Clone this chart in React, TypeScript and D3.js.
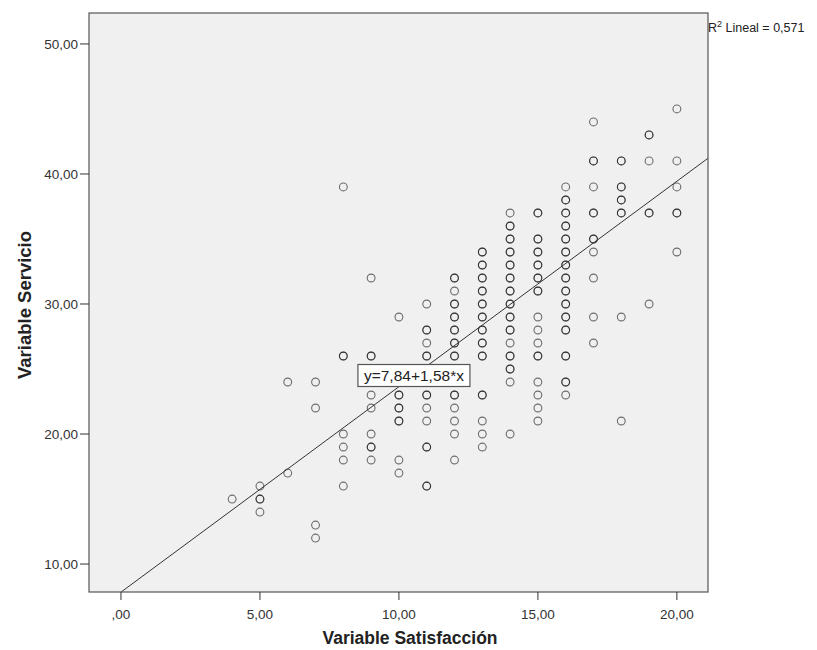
import React from "react";
import * as d3 from "d3";

// Variable Satisfacción values (one column of points each)
const satisfaccion = [4, 5, 6, 7, 8, 9, 10, 11, 12, 13, 14, 15, 16, 17, 18, 19, 20];

// Variable Servicio observations for each satisfaccion value (repeats = overlapping points)
const servicio: number[][] = [
  [15],
  [16, 15, 15, 14],
  [24, 17],
  [24, 22, 13, 12],
  [39, 26, 26, 20, 19, 18, 16],
  [32, 26, 26, 23, 22, 20, 19, 19, 18],
  [29, 23, 23, 22, 22, 21, 21, 18, 17],
  [30, 28, 28, 27, 26, 26, 23, 23, 22, 21, 19, 19, 16, 16],
  [32, 32, 31, 30, 30, 29, 29, 28, 28, 27, 27, 26, 26, 23, 23, 22, 21, 20, 18],
  [34, 34, 33, 33, 32, 32, 31, 31, 30, 30, 29, 29, 28, 28, 27, 27, 26, 26, 23, 23, 21, 20, 19],
  [37, 36, 36, 35, 35, 34, 34, 33, 33, 32, 32, 31, 31, 30, 30, 29, 29, 28, 28, 27, 26, 26, 25, 25, 24, 20],
  [37, 37, 35, 35, 34, 34, 33, 33, 32, 32, 31, 31, 29, 28, 27, 26, 26, 24, 23, 22, 21],
  [39, 38, 38, 37, 37, 36, 36, 35, 35, 34, 34, 33, 33, 32, 32, 31, 31, 30, 30, 29, 29, 28, 28, 26, 26, 24, 24, 23],
  [44, 41, 41, 39, 37, 37, 35, 35, 34, 32, 29, 27],
  [41, 41, 39, 39, 38, 38, 37, 37, 29, 21],
  [43, 43, 41, 37, 37, 30],
  [45, 41, 39, 37, 37, 34],
];

const xTicks = [0, 5, 10, 15, 20];
const yTicks = [10, 20, 30, 40, 50];

// fitted line y = a + b*x
const intercept = 7.84;
const slope = 1.58;
const r2 = 0.571;

const W = 817;
const H = 650;
const left = 89;
const right = 708;
const top = 13;
const bottom = 592;

const fmt = (v: number, digits = 2) => {
  const s = v.toFixed(digits).replace(".", ",");
  return v === 0 ? s.slice(1) : s;
};

export default function App() {
  const x = d3.scaleLinear().domain([-1.15, 21.12]).range([left, right]);
  const y = d3.scaleLinear().domain([7.85, 52.38]).range([bottom, top]);

  const points: { sx: number; sy: number }[] = [];
  satisfaccion.forEach((sx, i) => {
    servicio[i].forEach((sy) => points.push({ sx, sy }));
  });

  const [x0, x1] = x.domain();
  const linePath = d3.line<number>()
    .x((d) => x(d))
    .y((d) => y(intercept + slope * d))([x0, x1]);

  const labelX = x(10.54);
  const labelY = y(24.5);

  return (
    <svg
      width={W}
      height={H}
      style={{ position: "absolute", left: 0, top: 0, background: "#fff" }}
      fontFamily="'Liberation Sans', Arial, sans-serif"
    >
      <defs>
        <clipPath id="plot">
          <rect x={left} y={top} width={right - left} height={bottom - top} />
        </clipPath>
      </defs>
      <rect x={left} y={top} width={right - left} height={bottom - top} fill="#f0f0f0" />

      <g clipPath="url(#plot)">
        {points.map((p, i) => (
          <circle
            key={i}
            cx={x(p.sx)}
            cy={y(p.sy)}
            r={3.9}
            fill="none"
            stroke="#000"
            strokeOpacity={0.55}
            strokeWidth={1.1}
          />
        ))}
        <path d={linePath || ""} fill="none" stroke="#333" strokeWidth={1} />
      </g>

      <rect x={left} y={top} width={right - left} height={bottom - top} fill="none" stroke="#555" strokeWidth={1.2} />

      {/* y axis */}
      {yTicks.map((t) => (
        <g key={t} transform={`translate(0,${y(t)})`}>
          <line x1={left - 9} x2={left} stroke="#333" />
          <text x={left - 11} dy="0.35em" textAnchor="end" fontSize={13.5} fill="#333">
            {fmt(t)}
          </text>
        </g>
      ))}
      {/* x axis */}
      {xTicks.map((t) => (
        <g key={t} transform={`translate(${x(t)},0)`}>
          <line y1={bottom} y2={bottom + 8} stroke="#333" />
          <text y={bottom + 27} textAnchor="middle" fontSize={13.5} fill="#333">
            {fmt(t)}
          </text>
        </g>
      ))}

      <text
        transform={`translate(31,305) rotate(-90)`}
        textAnchor="middle"
        fontSize={18.5}
        fontWeight="bold"
        fill="#222"
      >
        Variable Servicio
      </text>
      <text x={410} y={644} textAnchor="middle" fontSize={17.5} fontWeight="bold" fill="#222">
        Variable Satisfacción
      </text>

      {/* equation label */}
      <g transform={`translate(${labelX},${labelY})`}>
        <rect x={-56} y={-11} width={112} height={22} fill="#fff" stroke="#555" strokeWidth={1.2} />
        <text textAnchor="middle" dy="0.36em" fontSize={15.5} fill="#222">
          {`y=${fmt(intercept)}+${fmt(slope)}*x`}
        </text>
      </g>

      <text x={right} y={32} fontSize={12.5} fill="#222">
        R<tspan dy={-5} fontSize={9}>2</tspan>
        <tspan dy={5}>{` Lineal = ${r2.toFixed(3).replace(".", ",")}`}</tspan>
      </text>
    </svg>
  );
}
